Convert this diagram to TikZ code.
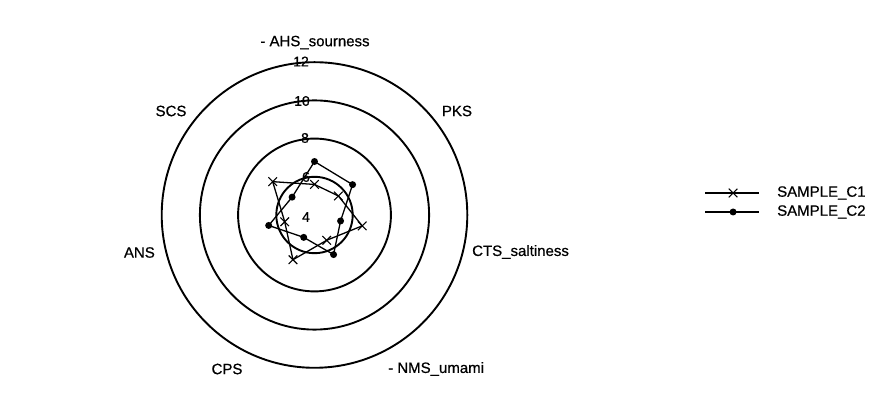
\documentclass[tikz,border=0pt]{standalone}
\usepackage{fontspec}
\setmainfont[FakeBold=0.6,BoldFont={Liberation Sans}]{Liberation Sans}
\usetikzlibrary{calc,shapes.misc}
\begin{document}
\begin{tikzpicture}[x=1pt,y=1pt,
  ring/.style={line width=1.9pt},
  serieline/.style={line width=1.3pt,line join=round},
  dotmark/.style={circle,fill=black,inner sep=0pt,minimum size=7pt},
  xmark/.style={cross out,draw=black,line width=1.1pt,inner sep=0pt,minimum size=7.5pt},
  axlabel/.style={font=\fontsize{15}{18}\selectfont\bfseries,inner sep=0pt},
  ticklabel/.style={font=\fontsize{14}{16}\selectfont\bfseries,inner sep=0pt},
  leglabel/.style={font=\fontsize{15}{18}\selectfont\bfseries,inner sep=0pt,anchor=west}]
\useasboundingbox (0,0) rectangle (877,406);
\fill[white] (0,0) rectangle (877,406);
\coordinate (C) at (314.5,191);
% rings
\draw[ring] (C) circle[radius=38.2pt];
\draw[ring] (C) circle[radius=76.4pt];
\draw[ring] (C) circle[radius=114.6pt];
\draw[ring] (C) circle[radius=152.8pt];
% tick labels
\node[ticklabel] (t12) at (301,344.5) {12};
\node[ticklabel] (t10) at (302,305) {10};
\node[ticklabel] (t8) at (305,268) {8};
\node[ticklabel] (t6) at (306,229) {6};
\node[ticklabel] (t4) at (306,189) {4};
% axis labels
\node[axlabel] (lAHS) at (315,363.5) {- AHS\_sourness};
\node[axlabel] (lPKS) at (457,295) {PKS};
\node[axlabel,anchor=west] (lCTS) at (472,154) {CTS\_saltiness};
\node[axlabel,anchor=west] (lNMS) at (388,37) {- NMS\_umami};
\node[axlabel] (lCPS) at (227,37) {CPS};
\node[axlabel,anchor=east] (lANS) at (155,153.5) {ANS};
\node[axlabel] (lSCS) at (171,295) {SCS};
% data: angles 90, 38.57, -12.86, -64.29, -115.71, -167.14, 141.43
\def\u{19.1}
\foreach \n/\a/\v in {1/90/5.6, 2/38.57/5.6, 3/-12.86/6.56, 4/-64.29/5.47, 5/-115.71/6.6, 6/-167.14/5.6, 7/141.43/6.8}{
  \coordinate (a\n) at ($(C)+(\a:{\u*(\v-4)})$);
}
\foreach \n/\a/\v in {1/90/6.8, 2/38.57/6.55, 3/-12.86/5.4, 4/-64.29/6.3, 5/-115.71/5.3, 6/-167.14/6.46, 7/141.43/5.5}{
  \coordinate (b\n) at ($(C)+(\a:{\u*(\v-4)})$);
}
\draw[serieline] (a1) -- (a2) -- (a3) -- (a4) -- (a5) -- (a6) -- (a7) -- cycle;
\draw[serieline] (b1) -- (b2) -- (b3) -- (b4) -- (b5) -- (b6) -- (b7) -- cycle;
\foreach \n in {1,...,7}{
  \node[xmark] (ma\n) at (a\n) {};
  \node[dotmark] (mb\n) at (b\n) {};
}
% legend
\coordinate (l1a) at (705,213);
\coordinate (l1b) at (759,213);
\coordinate (l2a) at (705,194);
\coordinate (l2b) at (759,194);
\draw[serieline] (l1a) -- (l1b);
\draw[serieline] (l2a) -- (l2b);
\node[xmark] (lm1) at ($(l1a)!0.52!(l1b)$) {};
\node[dotmark] (lm2) at ($(l2a)!0.52!(l2b)$) {};
\node[leglabel] (lg1) at (777,213) {SAMPLE\_C1};
\node[leglabel] (lg2) at (777,194) {SAMPLE\_C2};
\end{tikzpicture}
\end{document}
